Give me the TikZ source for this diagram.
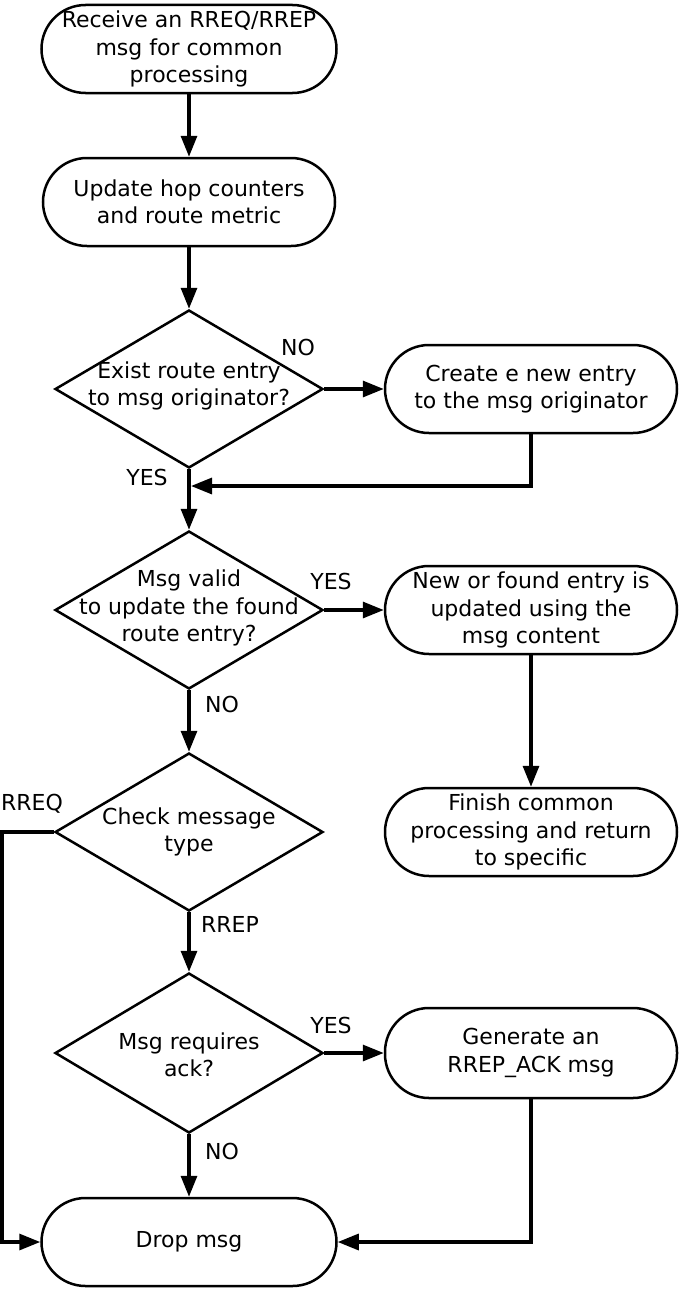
\documentclass[tikz,border=0pt]{standalone}
\usepackage{fontspec}
\setmainfont{DejaVu Sans}
\usetikzlibrary{shapes.geometric,arrows.meta}
\begin{document}
\begin{tikzpicture}[x=1pt,y=-1pt,
  every node/.style={font=\fontsize{22}{27.5}\selectfont},
  pill/.style={draw, line width=2.5pt, rectangle, rounded corners=44pt, minimum width=292pt, minimum height=88pt, inner sep=0pt, align=center},
  dia/.style={draw, line width=2.5pt, diamond, minimum width=268pt, minimum height=158pt, inner sep=0pt},
  txt/.style={align=center, inner sep=0pt},
  lbl/.style={inner sep=0pt},
  arr/.style={line width=3.2pt, -{Triangle[length=21pt,width=16pt]}}]
\path[fill=white] (0,0) rectangle (678,1290);

\node[pill, minimum width=295pt] (n1) at (189,49) {Receive an RREQ/RREP\\msg for common\\processing};
\node[pill] (n2) at (189,202) {Update hop counters\\and route metric};
\node[dia] (d1) at (189,389) {};
\node[txt] (t1) at (189,386) {Exist route entry\\to msg originator?};
\node[pill] (c1) at (531,389) {Create e new entry\\to the msg originator};
\node[dia] (d2) at (189,610) {};
\node[txt] (t2) at (189,608) {Msg valid\\to update the found\\route entry?};
\node[pill] (c2) at (531,610) {New or found entry is\\updated using the\\msg content};
\node[dia] (d3) at (189,832) {};
\node[txt] (t3) at (189,832) {Check message\\type};
\node[pill] (c3) at (531,832) {Finish common\\processing and return\\to specific};
\node[dia, minimum height=160pt] (d4) at (189,1053) {};
\node[txt] (t4) at (189,1055) {Msg requires\\ack?};
\node[pill, minimum height=90pt] (c4) at (531,1053) {Generate an\\RREP\_ACK msg};
\node[pill, minimum width=295pt] (n3) at (189,1242) {Drop msg};

\coordinate (m1) at (191,486);
\coordinate (q1) at (2,1242);

\draw[arr] (n1.south) -- (n2.north);
\draw[arr] (n2.south) -- (d1.north);
\draw[arr] (d1.east) -- (c1.west);
\draw[arr] (c1.south) |- (m1);
\draw[arr] (d1.south) -- (d2.north);
\draw[arr] (d2.east) -- (c2.west);
\draw[arr] (c2.south) -- (c3.north);
\draw[arr] (d2.south) -- (d3.north);
\draw[arr] (d3.west) -| (q1) -- (n3.west);
\draw[arr] (d3.south) -- (d4.north);
\draw[arr] (d4.east) -- (c4.west);
\draw[arr] (d4.south) -- (n3.north);
\draw[arr] (c4.south) |- (n3.east);

\node[lbl] (l1) at (298,347) {NO};
\node[lbl] (l2) at (147,477) {YES};
\node[lbl] (l3) at (331,581) {YES};
\node[lbl] (l4) at (222,704) {NO};
\node[lbl] (l5) at (32,804) {RREQ};
\node[lbl] (l6) at (230,924) {RREP};
\node[lbl] (l7) at (331,1025) {YES};
\node[lbl] (l8) at (222,1151) {NO};
\end{tikzpicture}
\end{document}
